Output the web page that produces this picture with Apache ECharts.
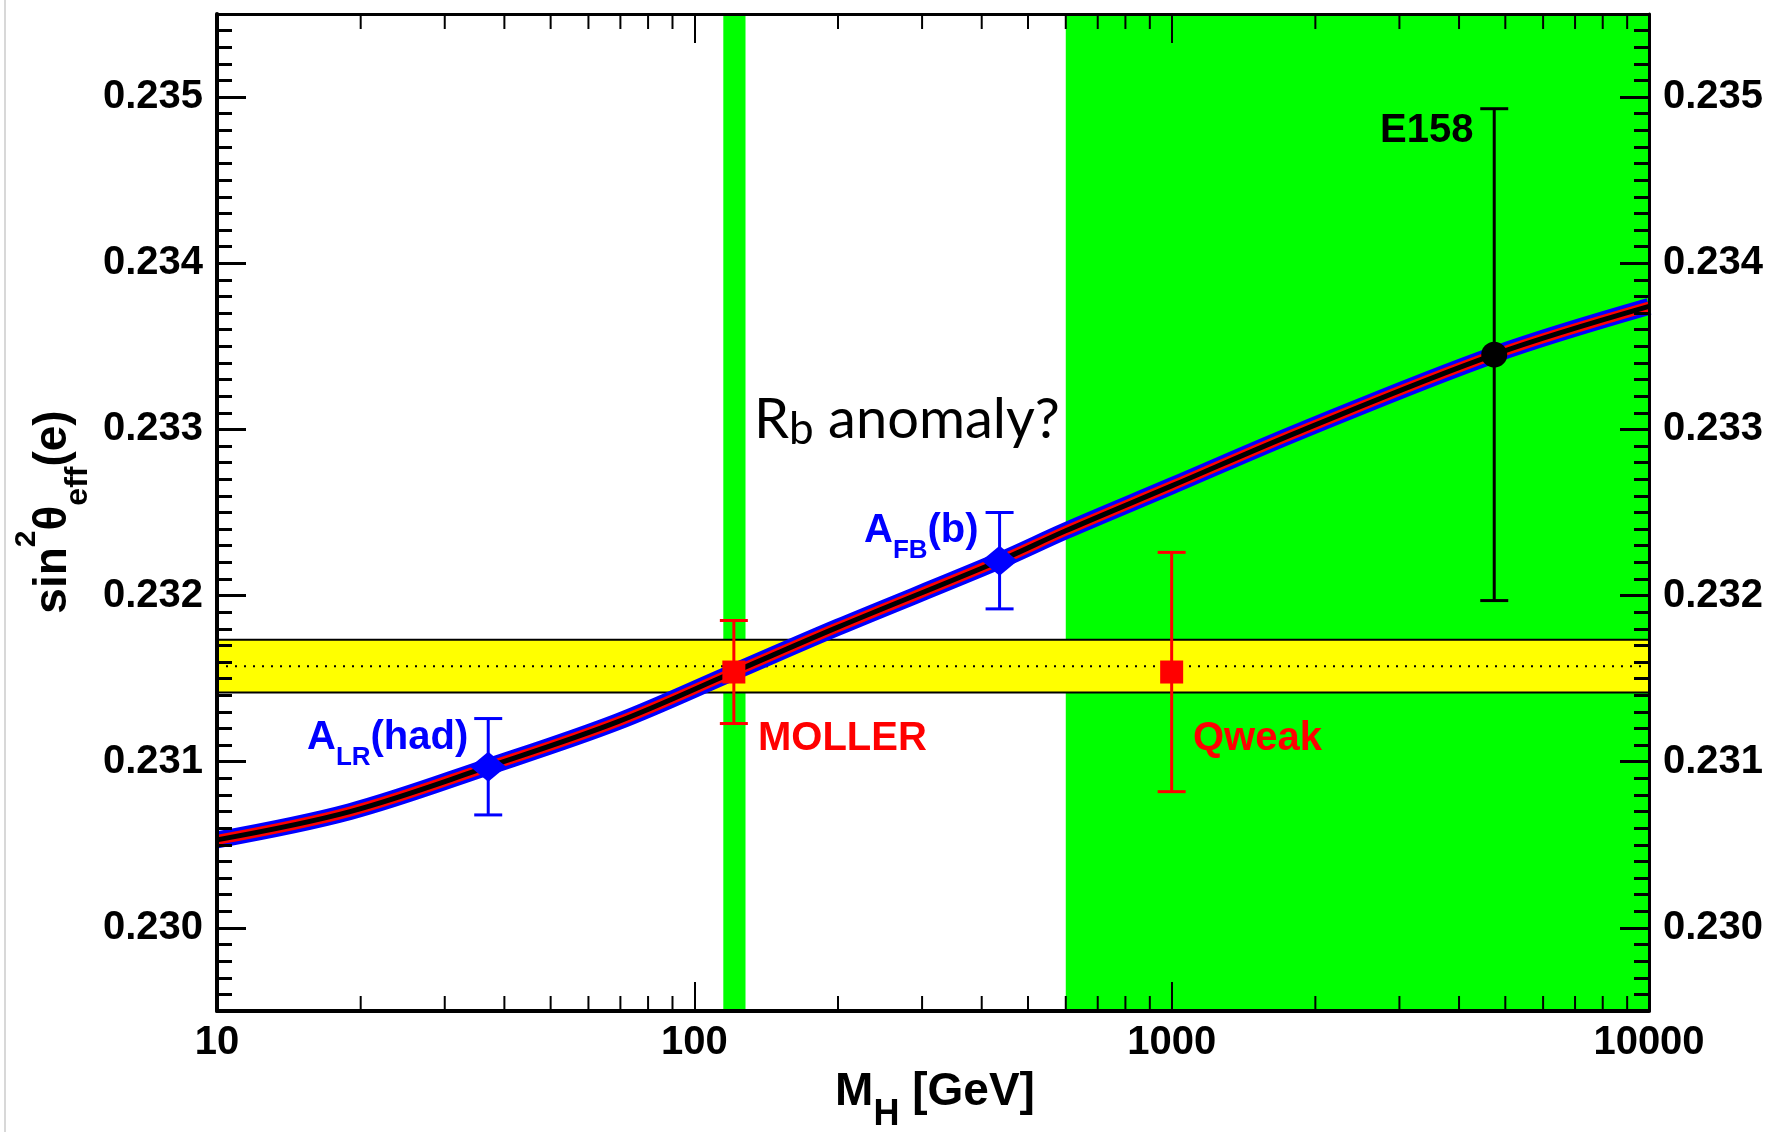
<!DOCTYPE html>
<html>
<head>
<meta charset="utf-8">
<script src="https://cdn.jsdelivr.net/npm/echarts@6/dist/echarts.min.js"></script>
<style>
html, body { margin: 0; padding: 0; background: #fff; }
#chart { width: 1771px; height: 1132px; }
</style>
</head>
<body>
<div id="chart"></div>
<script>
// minor ticks of the log M_H axis
const xMinorTicks = [20, 30, 40, 50, 60, 70, 80, 90, 200, 300, 400, 500, 600, 700, 800, 900,
  2000, 3000, 4000, 5000, 6000, 7000, 8000, 9000]

// SM prediction of sin2theta_eff vs M_H
const curveMass = [10, 19, 37, 69, 121, 200, 436, 600, 1000, 1860, 4740, 10000]
const curveSin2 = [0.23053, 0.23070, 0.23097, 0.23124, 0.23154, 0.23181, 0.23221, 0.23239, 0.23266, 0.23299, 0.23345, 0.23374]

// excluded / allowed M_H ranges (green)
const greenBandFrom = [115, 600]
const greenBandTo = [128, 10000]

// yellow band
const yellowBand = [0.231416, 0.231734]
const yellowCenter = 0.231575

// measurements
const measNames = ['A_LR(had)', 'A_FB(b)', 'MOLLER', 'Qweak', 'E158']
const measMass = [37, 436, 121, 1000, 4740]
const measValue = [0.23097, 0.23221, 0.23154, 0.23154, 0.23345]
const measError = [0.00029, 0.00029, 0.00031, 0.00072, 0.00148]

const FONT = '"Liberation Sans", Arial, Helvetica, sans-serif'
const measStyle = { // 颜色 / 形状
  'A_LR(had)': { color: '#0000ff', symbol: 'diamond', size: [36, 30] },
  'A_FB(b)': { color: '#0000ff', symbol: 'diamond', size: [36, 30] },
  'MOLLER': { color: '#ff0000', symbol: 'rect', size: 23 },
  'Qweak': { color: '#ff0000', symbol: 'rect', size: 23 },
  'E158': { color: '#000000', symbol: 'circle', size: 26 }
}

function yAxisCfg(pos, lw) {
  return {
    type: 'value', position: pos, min: 0.2295, max: 0.2355, splitNumber: 6, z: 10,
    axisLine: { show: true, onZero: false, lineStyle: { color: '#000', width: lw } },
    axisTick: { show: true, inside: true, length: 29, lineStyle: { color: '#000', width: 3 } },
    minorTick: { show: true, splitNumber: 10, length: 15, lineStyle: { color: '#000', width: 3 } },
    axisLabel: {
      show: true, margin: 14, fontFamily: FONT, fontWeight: 'bold', fontSize: 40, color: '#000',
      showMinLabel: false, showMaxLabel: false,
      formatter: v => v.toFixed(3)
    },
    splitLine: { show: false }
  }
}

function xAxisCfg(pos, lw, labels) {
  return {
    type: 'log', logBase: 10, position: pos, min: 10, max: 10000, z: 10,
    axisLine: { show: true, onZero: false, lineStyle: { color: '#000', width: lw } },
    axisTick: { show: true, inside: true, length: 29, lineStyle: { color: '#000', width: 2 } },
    axisLabel: {
      show: labels, margin: 12, fontFamily: FONT, fontWeight: 'bold', fontSize: 40, color: '#000',
      formatter: v => String(Math.round(v))
    },
    splitLine: { show: false }
  }
}

const curveData = curveMass.map((m, i) => [m, curveSin2[i]])

function curveSeries(color, width, z) {
  return {
    type: 'line', data: curveData, symbol: 'none', smooth: 0.35,
    lineStyle: { color: color, width: width }, z: z, silent: true
  }
}

const annotStyles = {
  a: { fontSize: 40, lineHeight: 40, verticalAlign: 'top', fontWeight: 'bold', fontFamily: FONT },
  s: { fontSize: 26, lineHeight: 26, verticalAlign: 'top', fontWeight: 'bold', fontFamily: FONT, padding: [27, 0, 0, 0] }
}

function annot(x, y, text, color) {
  return {
    type: 'text', x: x, y: y, z: 100,
    style: { text: text, rich: annotStyles, fill: color, align: 'left', verticalAlign: 'top' }
  }
}

const option = {
  animation: false,
  backgroundColor: '#fff',
  grid: { left: 217, right: 122, top: 14, bottom: 121 },
  xAxis: [xAxisCfg('bottom', 4, true), xAxisCfg('top', 3, false)],
  yAxis: [yAxisCfg('left', 4), yAxisCfg('right', 3)],
  series: [
    { // 绿色区域
      type: 'custom', z: 1, silent: true, clip: true,
      data: greenBandFrom.map((a, i) => [a, greenBandTo[i]]),
      encode: { x: [0, 1] },
      renderItem(params, api) {
        const cs = params.coordSys
        const x1 = api.coord([api.value(0), 0.233])[0]
        const x2 = api.coord([api.value(1), 0.233])[0]
        return { type: 'rect', shape: { x: x1, y: cs.y, width: x2 - x1, height: cs.height }, style: { fill: '#00ff00' } }
      }
    },
    { // 黄色区域
      type: 'custom', z: 2, silent: true,
      data: [[yellowBand[0], yellowBand[1], yellowCenter]],
      encode: { y: [0, 1, 2] },
      renderItem(params, api) {
        const cs = params.coordSys
        const yLo = api.coord([100, api.value(0)])[1]
        const yHi = api.coord([100, api.value(1)])[1]
        const yMid = api.coord([100, api.value(2)])[1]
        const x1 = cs.x, x2 = cs.x + cs.width
        return {
          type: 'group', children: [
            { type: 'rect', shape: { x: x1, y: yHi, width: cs.width, height: yLo - yHi }, style: { fill: '#ffff00' } },
            { type: 'line', shape: { x1: x1, y1: yHi, x2: x2, y2: yHi }, style: { stroke: '#000', lineWidth: 2 } },
            { type: 'line', shape: { x1: x1, y1: yLo, x2: x2, y2: yLo }, style: { stroke: '#000', lineWidth: 2 } },
            { type: 'line', shape: { x1: x1, y1: yMid, x2: x2, y2: yMid }, style: { stroke: '#000', lineWidth: 2, lineDash: [2, 7] } }
          ]
        }
      }
    },
    curveSeries('#0000ff', 17, 3),
    curveSeries('#ff0000', 10, 4),
    curveSeries('#000000', 5, 5),
    { // 误差棒
      type: 'custom', z: 6, silent: true, clip: false,
      data: measMass.map((m, i) => [m, measValue[i] - measError[i], measValue[i] + measError[i], i]),
      encode: { x: 0, y: [1, 2] },
      renderItem(params, api) {
        const top = api.coord([api.value(0), api.value(2)])
        const bot = api.coord([api.value(0), api.value(1)])
        const c = measStyle[measNames[api.value(3)]].color
        const hw = 14
        const st = { stroke: c, lineWidth: 3 }
        return {
          type: 'group', children: [
            { type: 'line', shape: { x1: top[0], y1: top[1], x2: bot[0], y2: bot[1] }, style: st },
            { type: 'line', shape: { x1: top[0] - hw, y1: top[1], x2: top[0] + hw, y2: top[1] }, style: st },
            { type: 'line', shape: { x1: bot[0] - hw, y1: bot[1], x2: bot[0] + hw, y2: bot[1] }, style: st }
          ]
        }
      }
    },
    { // 测量点
      type: 'scatter', z: 7, silent: true,
      data: measMass.map((m, i) => {
        const s = measStyle[measNames[i]]
        return { name: measNames[i], value: [m, measValue[i]], symbol: s.symbol, symbolSize: s.size, itemStyle: { color: s.color, opacity: 1 } }
      })
    },
    { // x 轴次刻度
      type: 'custom', z: 11, silent: true, clip: false,
      data: xMinorTicks.map(v => [v]),
      encode: { x: 0 },
      renderItem(params, api) {
        const cs = params.coordSys
        const x = api.coord([api.value(0), 0.233])[0]
        const st = { stroke: '#000', lineWidth: 2 }
        return {
          type: 'group', children: [
            { type: 'line', shape: { x1: x, y1: cs.y + cs.height, x2: x, y2: cs.y + cs.height - 15 }, style: st },
            { type: 'line', shape: { x1: x, y1: cs.y, x2: x, y2: cs.y + 15 }, style: st }
          ]
        }
      }
    }
  ],
  graphic: [
    { type: 'line', shape: { x1: 5, y1: 0, x2: 5, y2: 1132 }, style: { stroke: '#d8d8d8', lineWidth: 2 } },
    annot(307, 718, '{a|A}{s|LR}{a|(had)}', '#0000ff'),
    annot(864, 511, '{a|A}{s|FB}{a|(b)}', '#0000ff'),
    annot(758, 719, '{a|MOLLER}', '#ff0000'),
    annot(1193, 719, '{a|Qweak}', '#ff0000'),
    annot(1380, 111, '{a|E158}', '#000000'),
    {
      type: 'text', x: 754, y: 392, z: 100,
      style: {
        text: '{m|R}{b|b}{m| anomaly?}', fill: '#000', align: 'left', verticalAlign: 'top',
        rich: {
          m: { fontSize: 56, lineHeight: 56, verticalAlign: 'top', fontFamily: 'Lato, "Open Sans", sans-serif' },
          b: { fontSize: 44, lineHeight: 44, verticalAlign: 'top', fontFamily: 'Lato, "Open Sans", sans-serif', padding: [16, 0, 0, 0] }
        }
      }
    },
    { // x 轴标题
      type: 'text', x: 935, y: 1069, z: 100,
      style: {
        text: '{a|M}{s|H}{a| [GeV]}', fill: '#000', align: 'center', verticalAlign: 'top',
        rich: {
          a: { fontSize: 46, lineHeight: 46, verticalAlign: 'top', fontWeight: 'bold', fontFamily: FONT },
          s: { fontSize: 36, lineHeight: 36, verticalAlign: 'top', fontWeight: 'bold', fontFamily: FONT, padding: [28, 0, 0, 0] }
        }
      }
    },
    { // y 轴标题
      type: 'text', x: 12, y: 512, rotation: Math.PI / 2, z: 100,
      style: {
        text: '{a|sin}{p|2}{a|θ}{s|eff}{a|(e)}', fill: '#000', align: 'center', verticalAlign: 'top',
        rich: {
          a: { fontSize: 46, lineHeight: 46, verticalAlign: 'top', fontWeight: 'bold', fontFamily: FONT, padding: [18, 0, 0, 0] },
          p: { fontSize: 30, lineHeight: 30, verticalAlign: 'top', fontWeight: 'bold', fontFamily: FONT },
          s: { fontSize: 32, lineHeight: 32, verticalAlign: 'top', fontWeight: 'bold', fontFamily: FONT, padding: [50, 0, 0, 0] }
        }
      }
    }
  ]
}

const chart = echarts.init(document.getElementById('chart'))
chart.setOption(option)
</script>
</body>
</html>
